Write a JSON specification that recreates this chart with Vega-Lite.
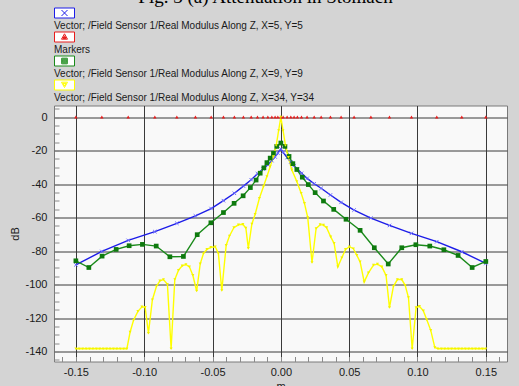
{
  "$schema": "https://vega.github.io/schema/vega-lite/v6.json",
  "width": 453,
  "height": 256,
  "autosize": {"type": "none"},
  "padding": {"left": 54, "top": 105.5, "right": 12, "bottom": 24.5},
  "background": "#d4d4d4",
  "title": {"text": "Fig. 3 (a) Attenuation in Stomach", "font": "Liberation Serif", "fontSize": 19, "fontWeight": "normal", "color": "#000000", "anchor": "middle", "offset": 1, "dx": -15},
  "config": {
    "view": {"fill": "#f9f9f9", "stroke": "#7a7a7a", "strokeWidth": 1},
    "axis": {"labelFont": "Liberation Sans", "labelFontSize": 11, "labelColor": "#1a1a1a", "titleFont": "Liberation Sans", "titleFontSize": 11, "titleFontWeight": "normal", "titleColor": "#1a1a1a", "domain": false, "tickSize": -5, "tickColor": "#8a8a8a", "gridColor": "#3a3a3a", "gridWidth": 1, "labelFlush": false, "labelOverlap": false}
  },
  "datasets": {
    "names": [
      {"id": "X5", "name": "Vector; /Field Sensor 1/Real Modulus Along Z, X=5, Y=5"},
      {"id": "M", "name": "Markers"},
      {"id": "X9", "name": "Vector; /Field Sensor 1/Real Modulus Along Z, X=9, Y=9"},
      {"id": "X34", "name": "Vector; /Field Sensor 1/Real Modulus Along Z, X=34, Y=34"}
    ]
  },
  "data": {"values": [
    {"id":"X5","x":-0.150,"y":-88.2},{"id":"X5","x":-0.131,"y":-80.2},{"id":"X5","x":-0.1117,"y":-73.6},{"id":"X5","x":-0.0922,"y":-68.4},{"id":"X5","x":-0.0761,"y":-63.4},{"id":"X5","x":-0.0625,"y":-59.0},{"id":"X5","x":-0.0510,"y":-54.6},{"id":"X5","x":-0.0420,"y":-49.9},{"id":"X5","x":-0.0340,"y":-45.5},{"id":"X5","x":-0.0274,"y":-41.2},{"id":"X5","x":-0.0217,"y":-37.4},{"id":"X5","x":-0.0171,"y":-33.8},{"id":"X5","x":-0.0130,"y":-31.0},{"id":"X5","x":-0.0095,"y":-28.5},{"id":"X5","x":-0.0066,"y":-26.0},{"id":"X5","x":-0.0042,"y":-23.8},{"id":"X5","x":-0.0022,"y":-21.5},{"id":"X5","x":0,"y":-19.0},{"id":"X5","x":0.0017,"y":-21.0},{"id":"X5","x":0.0046,"y":-24.2},{"id":"X5","x":0.0073,"y":-26.8},{"id":"X5","x":0.0097,"y":-29.0},{"id":"X5","x":0.0121,"y":-31.0},{"id":"X5","x":0.0151,"y":-33.6},{"id":"X5","x":0.0192,"y":-36.6},{"id":"X5","x":0.0244,"y":-39.8},{"id":"X5","x":0.0295,"y":-42.5},{"id":"X5","x":0.0363,"y":-46.5},{"id":"X5","x":0.0441,"y":-50.9},{"id":"X5","x":0.0536,"y":-55.5},{"id":"X5","x":0.0659,"y":-60.3},{"id":"X5","x":0.0795,"y":-64.7},{"id":"X5","x":0.0956,"y":-69.4},{"id":"X5","x":0.1141,"y":-74.4},{"id":"X5","x":0.1324,"y":-80.4},{"id":"X5","x":0.150,"y":-87.4},
    {"id":"M","x":-0.150,"y":0},{"id":"M","x":-0.131,"y":0},{"id":"M","x":-0.1117,"y":0},{"id":"M","x":-0.0922,"y":0},{"id":"M","x":-0.0761,"y":0},{"id":"M","x":-0.0625,"y":0},{"id":"M","x":-0.0510,"y":0},{"id":"M","x":-0.0420,"y":0},{"id":"M","x":-0.0340,"y":0},{"id":"M","x":-0.0274,"y":0},{"id":"M","x":-0.0217,"y":0},{"id":"M","x":-0.0171,"y":0},{"id":"M","x":-0.0130,"y":0},{"id":"M","x":-0.0095,"y":0},{"id":"M","x":-0.0066,"y":0},{"id":"M","x":-0.0042,"y":0},{"id":"M","x":-0.0022,"y":0},{"id":"M","x":0,"y":0},{"id":"M","x":0.0017,"y":0},{"id":"M","x":0.0046,"y":0},{"id":"M","x":0.0073,"y":0},{"id":"M","x":0.0097,"y":0},{"id":"M","x":0.0121,"y":0},{"id":"M","x":0.0151,"y":0},{"id":"M","x":0.0192,"y":0},{"id":"M","x":0.0244,"y":0},{"id":"M","x":0.0295,"y":0},{"id":"M","x":0.0363,"y":0},{"id":"M","x":0.0441,"y":0},{"id":"M","x":0.0536,"y":0},{"id":"M","x":0.0659,"y":0},{"id":"M","x":0.0795,"y":0},{"id":"M","x":0.0956,"y":0},{"id":"M","x":0.1141,"y":0},{"id":"M","x":0.1324,"y":0},{"id":"M","x":0.150,"y":0},
    {"id":"X9","x":-0.150,"y":-85.8},{"id":"X9","x":-0.1405,"y":-89.8},{"id":"X9","x":-0.1308,"y":-83.0},{"id":"X9","x":-0.1205,"y":-79.0},{"id":"X9","x":-0.1110,"y":-76.8},{"id":"X9","x":-0.1013,"y":-76.0},{"id":"X9","x":-0.0912,"y":-77.0},{"id":"X9","x":-0.0812,"y":-83.4},{"id":"X9","x":-0.0713,"y":-83.2},{"id":"X9","x":-0.0612,"y":-70.2},{"id":"X9","x":-0.0512,"y":-63.1},{"id":"X9","x":-0.0420,"y":-57.0},{"id":"X9","x":-0.0342,"y":-51.5},{"id":"X9","x":-0.0276,"y":-47.0},{"id":"X9","x":-0.0223,"y":-42.1},{"id":"X9","x":-0.0181,"y":-37.6},{"id":"X9","x":-0.0151,"y":-33.5},{"id":"X9","x":-0.0124,"y":-30.3},{"id":"X9","x":-0.0102,"y":-27.2},{"id":"X9","x":-0.0078,"y":-24.5},{"id":"X9","x":-0.0054,"y":-21.6},{"id":"X9","x":-0.0030,"y":-17.5},{"id":"X9","x":0,"y":-15.5},{"id":"X9","x":0.0030,"y":-17.5},{"id":"X9","x":0.0060,"y":-23.5},{"id":"X9","x":0.0088,"y":-27.8},{"id":"X9","x":0.0117,"y":-31.3},{"id":"X9","x":0.0157,"y":-35.9},{"id":"X9","x":0.0201,"y":-40.3},{"id":"X9","x":0.0251,"y":-45.1},{"id":"X9","x":0.0312,"y":-50.1},{"id":"X9","x":0.0387,"y":-55.1},{"id":"X9","x":0.0477,"y":-61.0},{"id":"X9","x":0.0580,"y":-67.6},{"id":"X9","x":0.0684,"y":-78.0},{"id":"X9","x":0.0786,"y":-87.7},{"id":"X9","x":0.0885,"y":-78.0},{"id":"X9","x":0.0988,"y":-76.2},{"id":"X9","x":0.1090,"y":-77.0},{"id":"X9","x":0.1193,"y":-79.2},{"id":"X9","x":0.1297,"y":-82.6},{"id":"X9","x":0.1400,"y":-89.8},{"id":"X9","x":0.1500,"y":-86.2},
    {"id":"X34","x":-0.150,"y":-138.3},{"id":"X34","x":-0.1475,"y":-138.3},{"id":"X34","x":-0.145,"y":-138.3},{"id":"X34","x":-0.1425,"y":-138.3},{"id":"X34","x":-0.140,"y":-138.3},{"id":"X34","x":-0.1375,"y":-138.3},{"id":"X34","x":-0.135,"y":-138.3},{"id":"X34","x":-0.1325,"y":-138.3},{"id":"X34","x":-0.130,"y":-138.3},{"id":"X34","x":-0.1275,"y":-138.3},{"id":"X34","x":-0.125,"y":-138.3},{"id":"X34","x":-0.1225,"y":-138.3},{"id":"X34","x":-0.120,"y":-138.3},{"id":"X34","x":-0.1175,"y":-138.3},{"id":"X34","x":-0.115,"y":-138.3},{"id":"X34","x":-0.1127,"y":-138.3},
    {"id":"X34","x":-0.1103,"y":-128.3},{"id":"X34","x":-0.1078,"y":-121.3},{"id":"X34","x":-0.1046,"y":-116.0},{"id":"X34","x":-0.1017,"y":-113.3},{"id":"X34","x":-0.0993,"y":-113.5},{"id":"X34","x":-0.0969,"y":-129.0},{"id":"X34","x":-0.0940,"y":-109.0},{"id":"X34","x":-0.0910,"y":-101.0},{"id":"X34","x":-0.0885,"y":-97.8},{"id":"X34","x":-0.0859,"y":-97.0},{"id":"X34","x":-0.0830,"y":-99.8},{"id":"X34","x":-0.0803,"y":-138.3},{"id":"X34","x":-0.0776,"y":-97.0},{"id":"X34","x":-0.0749,"y":-91.4},{"id":"X34","x":-0.0722,"y":-88.8},{"id":"X34","x":-0.0695,"y":-88.0},{"id":"X34","x":-0.0669,"y":-89.4},{"id":"X34","x":-0.0644,"y":-94.4},{"id":"X34","x":-0.0616,"y":-103.8},{"id":"X34","x":-0.0590,"y":-87.6},{"id":"X34","x":-0.0566,"y":-81.4},{"id":"X34","x":-0.0541,"y":-79.0},{"id":"X34","x":-0.0512,"y":-77.8},{"id":"X34","x":-0.0480,"y":-77.4},{"id":"X34","x":-0.0457,"y":-81.4},{"id":"X34","x":-0.0432,"y":-103.5},{"id":"X34","x":-0.0400,"y":-76.5},{"id":"X34","x":-0.0376,"y":-71.0},{"id":"X34","x":-0.0344,"y":-66.0},{"id":"X34","x":-0.0310,"y":-64.3},{"id":"X34","x":-0.0278,"y":-64.0},{"id":"X34","x":-0.0256,"y":-66.2},{"id":"X34","x":-0.0238,"y":-78.4},{"id":"X34","x":-0.0212,"y":-63.8},{"id":"X34","x":-0.0188,"y":-58.0},{"id":"X34","x":-0.0157,"y":-48.5},{"id":"X34","x":-0.0127,"y":-41.5},{"id":"X34","x":-0.0102,"y":-35.5},{"id":"X34","x":-0.0078,"y":-29.6},{"id":"X34","x":-0.0054,"y":-23.6},{"id":"X34","x":-0.0034,"y":-17.0},{"id":"X34","x":-0.0016,"y":-8.0},{"id":"X34","x":0,"y":0},{"id":"X34","x":0.0016,"y":-8.0},{"id":"X34","x":0.0034,"y":-17.0},{"id":"X34","x":0.0055,"y":-24.0},{"id":"X34","x":0.0080,"y":-31.5},{"id":"X34","x":0.0117,"y":-38.5},{"id":"X34","x":0.0149,"y":-45.5},{"id":"X34","x":0.0173,"y":-51.5},{"id":"X34","x":0.0197,"y":-60.0},{"id":"X34","x":0.0228,"y":-86.8},{"id":"X34","x":0.0258,"y":-66.5},{"id":"X34","x":0.0288,"y":-64.2},{"id":"X34","x":0.0312,"y":-64.5},{"id":"X34","x":0.0335,"y":-66.0},{"id":"X34","x":0.0365,"y":-71.5},{"id":"X34","x":0.0390,"y":-75.4},{"id":"X34","x":0.0417,"y":-89.4},{"id":"X34","x":0.0446,"y":-84.0},{"id":"X34","x":0.0473,"y":-79.0},{"id":"X34","x":0.0502,"y":-77.4},{"id":"X34","x":0.0531,"y":-78.6},{"id":"X34","x":0.0556,"y":-82.5},{"id":"X34","x":0.0580,"y":-86.4},{"id":"X34","x":0.0610,"y":-98.4},{"id":"X34","x":0.0641,"y":-93.0},{"id":"X34","x":0.0678,"y":-88.4},{"id":"X34","x":0.0707,"y":-87.8},{"id":"X34","x":0.0739,"y":-89.4},{"id":"X34","x":0.0770,"y":-94.5},{"id":"X34","x":0.0795,"y":-113.7},{"id":"X34","x":0.0824,"y":-101.0},{"id":"X34","x":0.0853,"y":-97.0},{"id":"X34","x":0.0885,"y":-97.0},{"id":"X34","x":0.0910,"y":-100.4},{"id":"X34","x":0.0934,"y":-107.7},{"id":"X34","x":0.0961,"y":-138.3},{"id":"X34","x":0.0990,"y":-113.7},{"id":"X34","x":0.1014,"y":-113.0},{"id":"X34","x":0.1043,"y":-115.7},{"id":"X34","x":0.1068,"y":-121.0},{"id":"X34","x":0.1097,"y":-127.3},{"id":"X34","x":0.1127,"y":-137.6},
    {"id":"X34","x":0.115,"y":-138.3},{"id":"X34","x":0.1175,"y":-138.3},{"id":"X34","x":0.120,"y":-138.3},{"id":"X34","x":0.1225,"y":-138.3},{"id":"X34","x":0.125,"y":-138.3},{"id":"X34","x":0.1275,"y":-138.3},{"id":"X34","x":0.130,"y":-138.3},{"id":"X34","x":0.1325,"y":-138.3},{"id":"X34","x":0.135,"y":-138.3},{"id":"X34","x":0.1375,"y":-138.3},{"id":"X34","x":0.140,"y":-138.3},{"id":"X34","x":0.1425,"y":-138.3},{"id":"X34","x":0.145,"y":-138.3},{"id":"X34","x":0.1475,"y":-138.3},{"id":"X34","x":0.150,"y":-138.3}
  ]},
  "transform": [
    {"lookup": "id", "from": {"data": {"name": "names"}, "key": "id", "fields": ["name"]}}
  ],
  "encoding": {
    "x": {"field": "x", "type": "quantitative", "scale": {"domain": [-0.166, 0.1655], "nice": false, "zero": false},
      "axis": {"title": "m", "values": [-0.16,-0.15,-0.14,-0.13,-0.12,-0.11,-0.1,-0.09,-0.08,-0.07,-0.06,-0.05,-0.04,-0.03,-0.02,-0.01,0,0.01,0.02,0.03,0.04,0.05,0.06,0.07,0.08,0.09,0.1,0.11,0.12,0.13,0.14,0.15,0.16],
        "labelExpr": "abs(round(datum.value*100)) % 5 === 0 ? replace(format(datum.value, '.2f'), '\u2212', '-') : ''",
        "grid": true, "gridOpacity": {"condition": {"test": "abs(round(datum.value*100)) % 5 === 0", "value": 1}, "value": 0},
        "labelPadding": 10, "titlePadding": 3}},
    "y": {"field": "y", "type": "quantitative", "scale": {"domain": [-145.9, 6.9], "nice": false, "zero": false},
      "axis": {"title": "dB", "values": [-145,-140,-135,-130,-125,-120,-115,-110,-105,-100,-95,-90,-85,-80,-75,-70,-65,-60,-55,-50,-45,-40,-35,-30,-25,-20,-15,-10,-5,0,5],
        "labelExpr": "datum.value % 20 === 0 ? '' + datum.value : ''",
        "grid": true, "gridOpacity": {"condition": {"test": "datum.value % 20 === 0", "value": 1}, "value": 0},
        "labelPadding": 12, "titlePadding": 4}}
  },
  "layer": [
    {
      "transform": [{"filter": "datum.id !== 'M'"}],
      "mark": {"type": "line", "strokeWidth": 1.4},
      "encoding": {
        "color": {"field": "name", "type": "nominal",
          "scale": {"domain": ["Vector; /Field Sensor 1/Real Modulus Along Z, X=5, Y=5", "Markers", "Vector; /Field Sensor 1/Real Modulus Along Z, X=9, Y=9", "Vector; /Field Sensor 1/Real Modulus Along Z, X=34, Y=34"], "range": ["#1c1ce8", "#e81c1c", "#1a8a1a", "#ffff00"]},
          "legend": {"orient": "none", "legendX": 5, "legendY": -98, "title": null, "direction": "vertical",
            "labelFont": "Liberation Sans", "labelFontSize": 10, "labelColor": "#1a1a1a", "labelLimit": 0, "labelOffset": -16, "rowPadding": -2,
            "symbolSize": 100, "symbolStrokeWidth": 1,
            "encode": {
              "symbols": {"update": {
                "shape": {"signal": "indexof(datum.value, 'X=5,') >= 0 ? 'M-2,-1L2,-1L2,1L-2,1Z M-0.6,-0.6L0.6,0.6 M0.6,-0.6L-0.6,0.6' : datum.value === 'Markers' ? 'M-2,-1L2,-1L2,1L-2,1Z M0,-0.64L0.6,0.44L-0.6,0.44Z M0,-0.24L0.3,0.28L-0.3,0.28Z M0,0L0.1,0.2L-0.1,0.2Z' : indexof(datum.value, 'X=9,') >= 0 ? 'M-2,-1L2,-1L2,1L-2,1Z M-0.56,-0.56L0.56,-0.56L0.56,0.56L-0.56,0.56Z M-0.36,-0.36L0.36,-0.36L0.36,0.36L-0.36,0.36Z M-0.16,-0.16L0.16,-0.16L0.16,0.16L-0.16,0.16Z' : 'M-2,-1L2,-1L2,1L-2,1Z M-0.6,-0.56L0.6,-0.56L0,0.5Z M-0.3,-0.32L0.3,-0.32L0,0.2Z'"},
                "fill": {"value": "#ffffff"},
                "fillOpacity": {"value": 1},
                "stroke": {"scale": "color", "field": "value"},
                "strokeWidth": {"value": 1},
                "size": {"value": 100},
                "opacity": {"value": 1}
              }},
              "labels": {"update": {"dy": {"value": 13}}}
            }
          }
        }
      }
    },
    {
      "transform": [{"filter": "datum.id === 'X5'"}],
      "mark": {"type": "point", "shape": "M-1,-1L1,1M1,-1L-1,1", "filled": false, "color": "#6a6aff", "size": 12, "strokeWidth": 1, "opacity": 1}
    },
    {
      "transform": [{"filter": "datum.id === 'X9'"}],
      "mark": {"type": "point", "shape": "square", "filled": true, "color": "#0e7a0e", "size": 22, "opacity": 1}
    },
    {
      "transform": [{"filter": "datum.id === 'M'"}],
      "mark": {"type": "point", "shape": "triangle-up", "filled": true, "color": "#e81c1c", "size": 12, "opacity": 1}
    },
    {
      "transform": [{"filter": "datum.id === 'X34'"}],
      "mark": {"type": "point", "shape": "triangle-down", "filled": true, "color": "#f2f200", "size": 9, "opacity": 1}
    }
  ]
}
